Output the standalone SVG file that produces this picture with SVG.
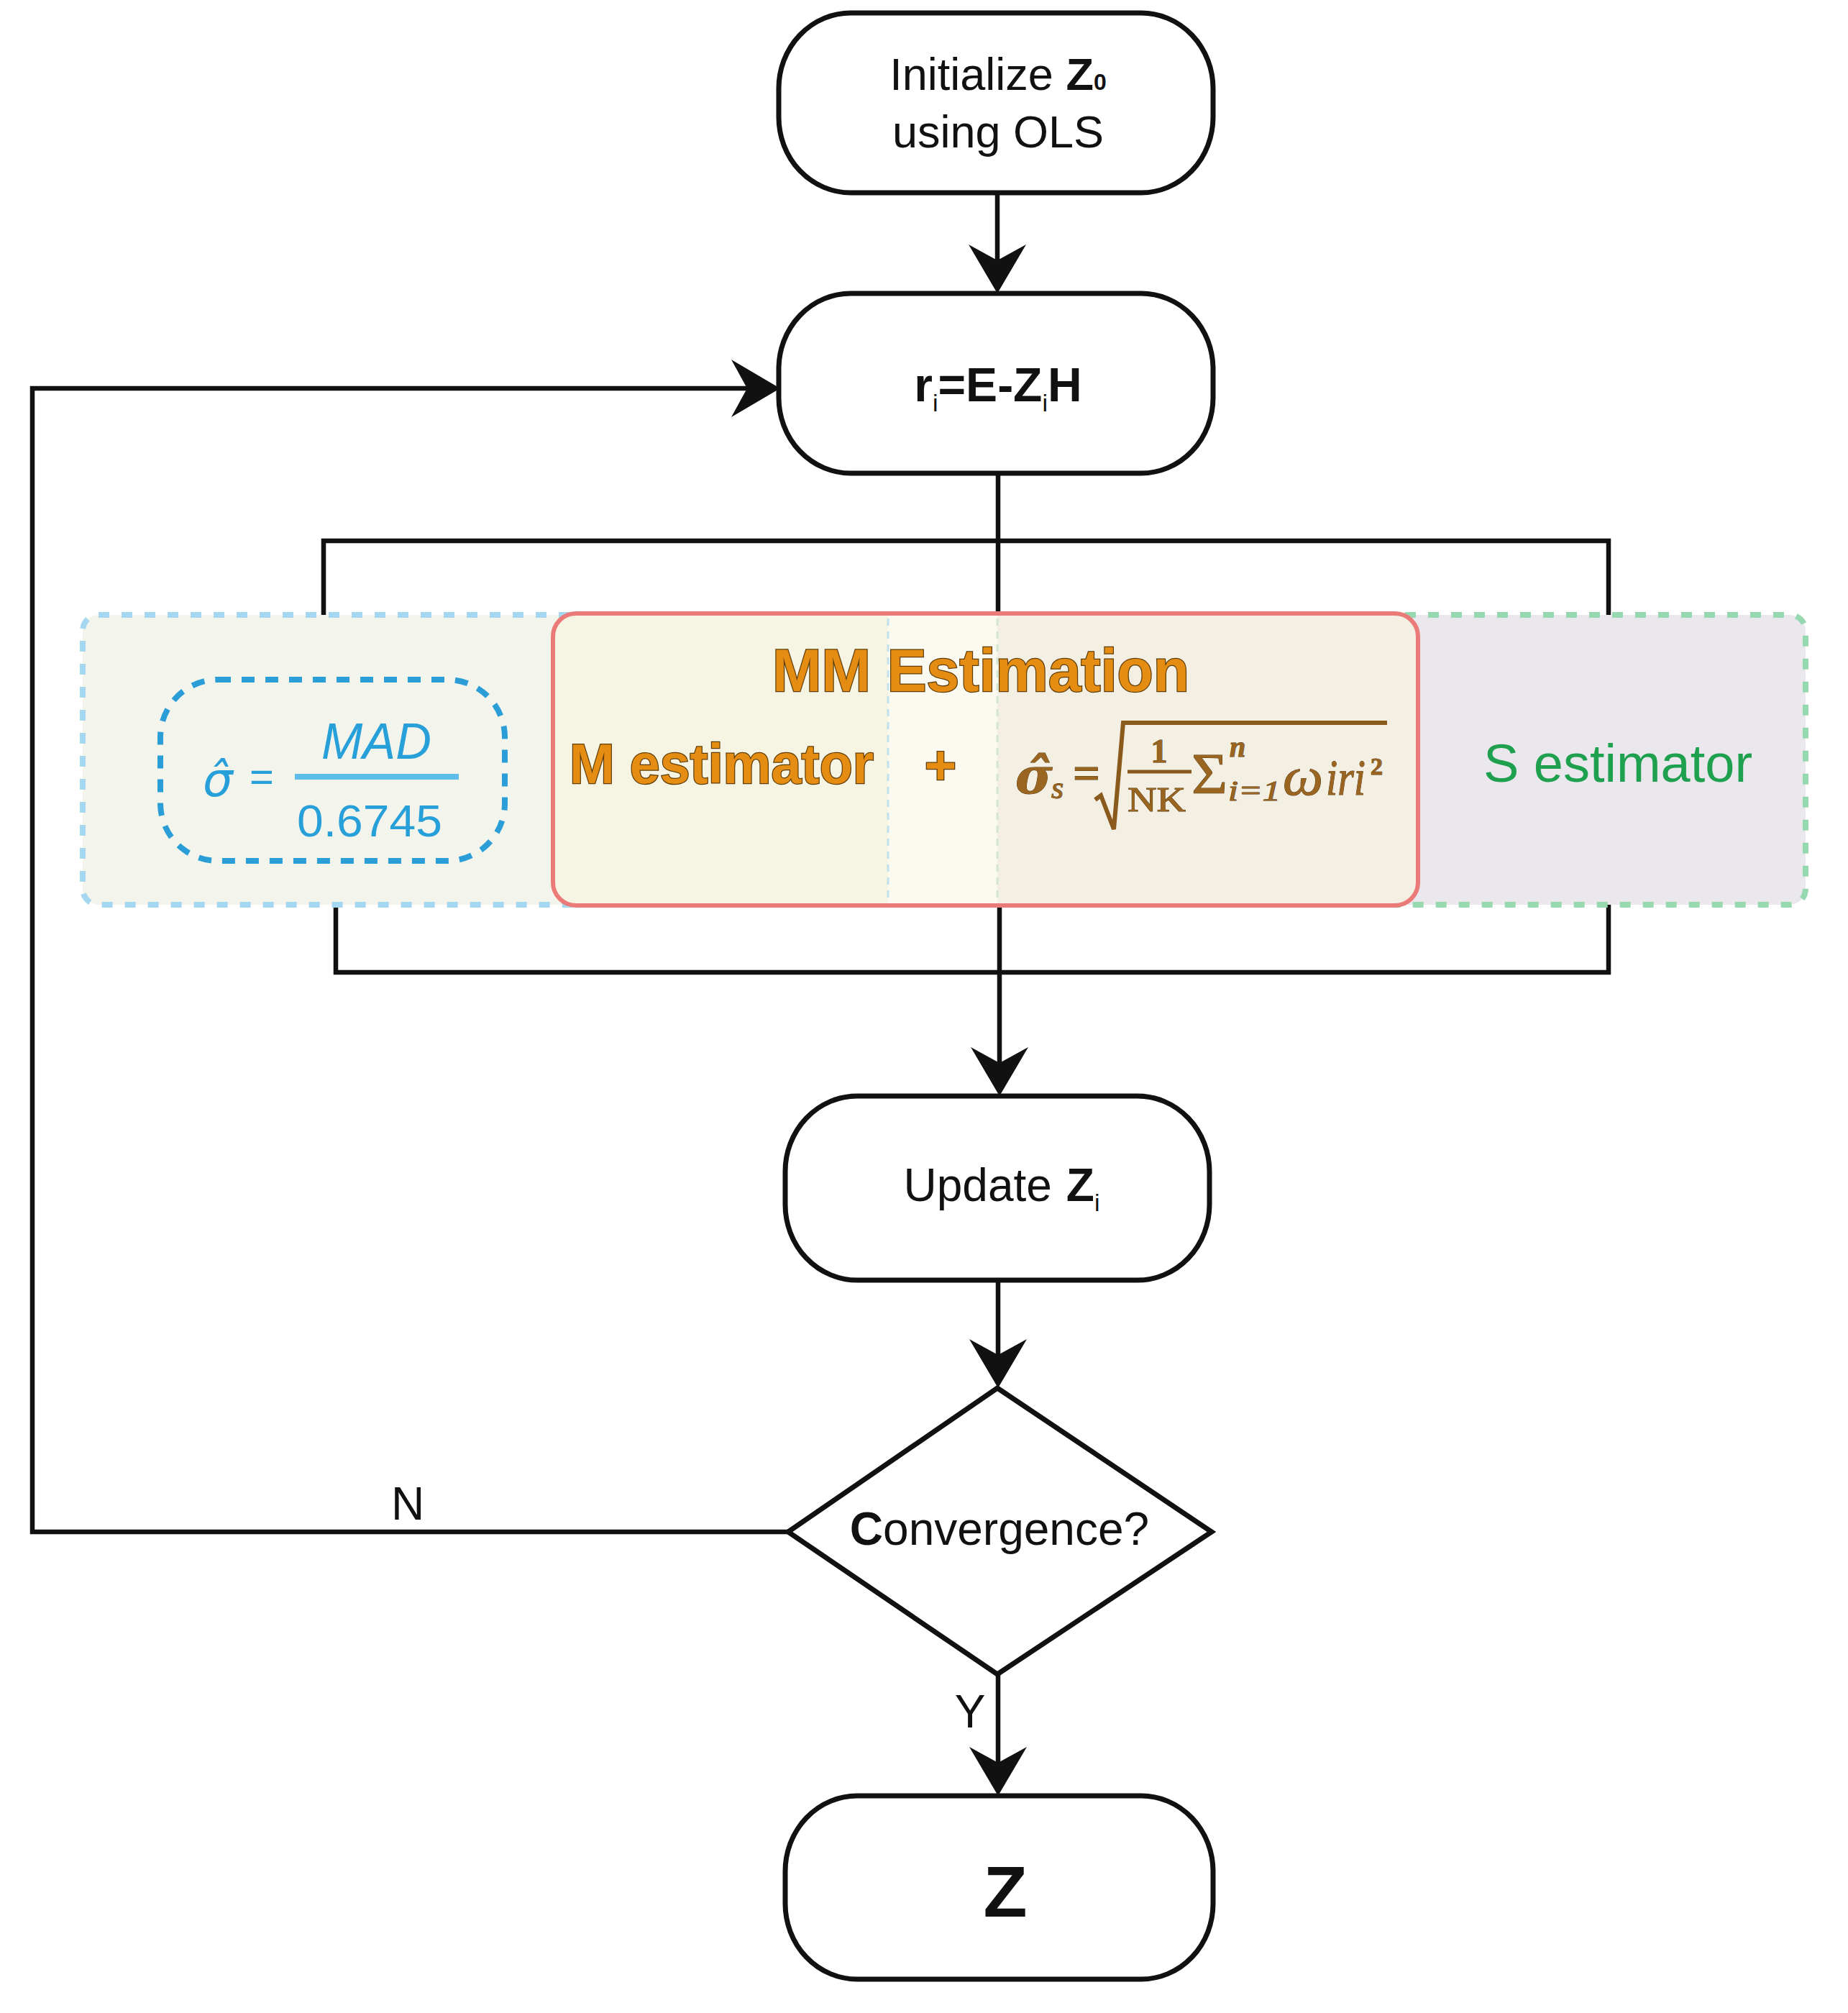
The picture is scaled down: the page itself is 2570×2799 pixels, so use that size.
<svg xmlns="http://www.w3.org/2000/svg" width="2570" height="2799" viewBox="0 0 2570 2799">
<style>
.node{fill:#ffffff;stroke:#111111;stroke-width:7}
.conn{fill:none;stroke:#111111;stroke-width:6.5}
.t{font-family:"Liberation Sans",Arial,sans-serif;fill:#111111}
.mm{font-family:"Liberation Sans",Arial,sans-serif;font-weight:bold;fill:#e58c12;stroke:#5e3d0a;stroke-width:2.5;paint-order:stroke fill}
.blue{font-family:"Liberation Sans",Arial,sans-serif;fill:#279fd9}
.br{font-family:"Liberation Serif","Times New Roman",serif;fill:#9a6520;stroke:#5a3a0c;stroke-width:1;paint-order:stroke fill}
</style>
<defs>
<marker id="ah" markerUnits="userSpaceOnUse" markerWidth="72" markerHeight="84" viewBox="0 -42 72 84" refX="22" refY="0" orient="auto">
<path d="M0,-40 L68,0 L0,40 L22,0 Z" fill="#111111"/>
</marker>
<clipPath id="mmclip"><rect x="769" y="853" width="1203" height="406" rx="32"/></clipPath>
</defs>
<rect x="0" y="0" width="2570" height="2799" fill="#ffffff"/>

<g id="connectors">
<path class="conn" d="M1387,268 L1387,362" marker-end="url(#ah)"/>
<path class="conn" d="M1096,2130 L45,2130 L45,540 L1039,540" marker-end="url(#ah)"/>
<path class="conn" d="M1388,660 L1388,856"/>
<path class="conn" d="M450,858 L450,752 L2237,752 L2237,858"/>
<path class="conn" d="M467,1256 L467,1352 L2237,1352 L2237,1256"/>
<path class="conn" d="M1390,1259 L1390,1478" marker-end="url(#ah)"/>
<path class="conn" d="M1388,1780 L1388,1884" marker-end="url(#ah)"/>
<path class="conn" d="M1388,2328 L1388,2451" marker-end="url(#ah)"/>
<text class="t" x="567" y="2113" font-size="64" text-anchor="middle">N</text>
<text class="t" x="1349" y="2402" font-size="64" text-anchor="middle">Y</text>
</g>

<g id="node-init">
<rect class="node" x="1083" y="18" width="604" height="250" rx="100" ry="105"/>
<text class="t" x="1388" y="125" font-size="63" text-anchor="middle">Initialize <tspan font-weight="bold">Z</tspan><tspan font-weight="bold" font-size="32">0</tspan></text>
<text class="t" x="1388" y="205" font-size="63" text-anchor="middle">using OLS</text>
</g>

<g id="node-residual">
<rect class="node" x="1083" y="408" width="604" height="250" rx="100" ry="105"/>
<text class="t" x="1388" y="558" font-size="66" font-weight="bold" text-anchor="middle">r<tspan font-size="34" font-weight="normal" dy="14">i</tspan><tspan dy="-14">=E-Z</tspan><tspan font-size="34" font-weight="normal" dy="14">i</tspan><tspan dy="-14">H</tspan></text>
</g>

<g id="panel-left">
<rect x="115" y="855" width="720" height="403" rx="22" fill="#f3f5ec" stroke="#a5d8f0" stroke-width="8" stroke-dasharray="15 17"/>
</g>
<g id="panel-right">
<rect x="1900" y="855" width="611" height="403" rx="22" fill="#eae8ed" stroke="#96d8b0" stroke-width="8" stroke-dasharray="15 17"/>
<text x="2250" y="1087" font-size="74" text-anchor="middle" font-family="Liberation Sans, Arial, sans-serif" fill="#1fa04e">S estimator</text>
</g>

<g id="mad-node">
<rect x="223" y="945" width="479" height="252" rx="80" fill="none" stroke="#2b9ed8" stroke-width="8" stroke-dasharray="18 15"/>
<text x="282" y="1107" font-size="66" font-style="italic" font-family="DejaVu Sans, sans-serif" fill="#279fd9">σ̂</text>
<text class="blue" x="364" y="1100" font-size="58" text-anchor="middle">=</text>
<text class="blue" x="447" y="1055" font-size="70" font-style="italic" textLength="153" lengthAdjust="spacingAndGlyphs">MAD</text>
<line x1="410" y1="1080" x2="638" y2="1080" stroke="#5bbde8" stroke-width="8"/>
<text class="blue" x="413" y="1163" font-size="63" textLength="202" lengthAdjust="spacingAndGlyphs">0.6745</text>
</g>

<g id="mm-estimation">
<g clip-path="url(#mmclip)">
<rect x="769" y="853" width="466" height="406" fill="#f6f4e3"/>
<rect x="1235" y="853" width="152" height="406" fill="#fbfaf0"/>
<rect x="1387" y="853" width="585" height="406" fill="#f3efe3"/>
</g>
<line x1="1235" y1="860" x2="1235" y2="1252" stroke="#c4e1ec" stroke-width="3" stroke-dasharray="10 8"/>
<line x1="1387" y1="860" x2="1387" y2="1252" stroke="#d3e6cf" stroke-width="3" stroke-dasharray="10 8"/>
<rect x="769" y="853" width="1203" height="406" rx="32" fill="none" stroke="#ea7b78" stroke-width="6"/>
<text class="mm" x="1364" y="961" font-size="84" text-anchor="middle" textLength="580" lengthAdjust="spacingAndGlyphs">MM Estimation</text>
<text class="mm" x="792" y="1089" font-size="78" textLength="423" lengthAdjust="spacingAndGlyphs">M estimator</text>
<text class="mm" x="1308" y="1090" font-size="76" text-anchor="middle">+</text>
<g id="s-formula">
<text x="1412" y="1103" font-size="70" font-style="italic" font-weight="bold" font-family="DejaVu Serif, serif" fill="#9a6520" stroke="#5a3a0c" stroke-width="1" paint-order="stroke fill">σ̂</text>
<text class="br" x="1462" y="1110" font-size="44" font-style="italic">s</text>
<text class="br" x="1492" y="1097" font-size="64" font-weight="bold" textLength="38" lengthAdjust="spacingAndGlyphs">=</text>
<path d="M1523,1112 L1531,1106 L1549,1153 L1562,1005 L1929,1005" fill="none" stroke="#8a5a1c" stroke-width="6"/>
<text class="br" x="1612" y="1060" font-size="46" font-weight="bold" text-anchor="middle">1</text>
<line x1="1568" y1="1073" x2="1657" y2="1073" stroke="#8a5a1c" stroke-width="5"/>
<text class="br" x="1568" y="1128" font-size="48" textLength="81" lengthAdjust="spacingAndGlyphs">NK</text>
<text class="br" x="1657" y="1103" font-size="80" textLength="50" lengthAdjust="spacingAndGlyphs">Σ</text>
<text class="br" x="1710" y="1052" font-size="40" font-style="italic" font-weight="bold">n</text>
<text class="br" x="1708" y="1113" font-size="40" font-style="italic" textLength="73" lengthAdjust="spacingAndGlyphs">i=1</text>
<text class="br" x="1784" y="1105" font-size="76" font-style="italic" textLength="56" lengthAdjust="spacingAndGlyphs">ω</text>
<text class="br" x="1844" y="1105" font-size="70" font-style="italic" textLength="55" lengthAdjust="spacingAndGlyphs">iri</text>
<text class="br" x="1906" y="1077" font-size="34" font-weight="bold">2</text>
</g>
</g>

<g id="node-update">
<rect class="node" x="1092" y="1524" width="590" height="256" rx="100" ry="105"/>
<text class="t" x="1393" y="1670" font-size="64" text-anchor="middle">Update<tspan dx="20" font-weight="bold">Z</tspan><tspan font-size="34" dy="14">i</tspan></text>
</g>

<g id="node-convergence">
<path class="node" d="M1387,1930 L1685,2130 L1387,2328 L1096,2130 Z"/>
<text class="t" x="1390" y="2148" font-size="64" text-anchor="middle"><tspan font-weight="bold">C</tspan>onvergence?</text>
</g>

<g id="node-z">
<rect class="node" x="1092" y="2497" width="595" height="255" rx="100" ry="105"/>
<text class="t" x="1398" y="2665" font-size="100" font-weight="bold" text-anchor="middle">Z</text>
</g>
</svg>
